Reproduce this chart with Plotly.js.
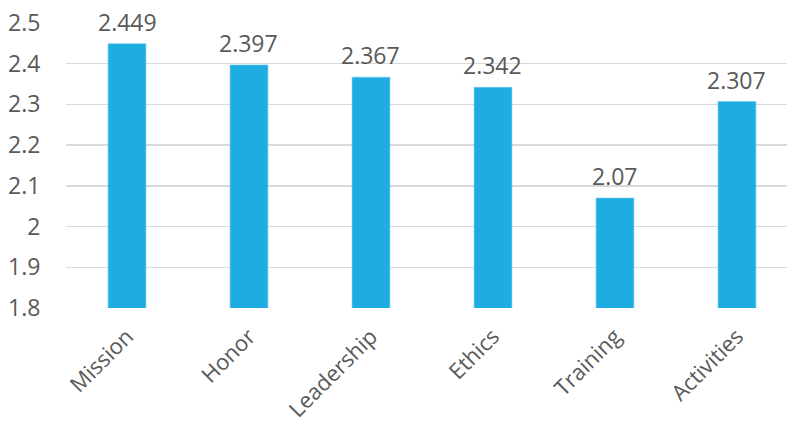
<!DOCTYPE html>
<html>
<head>
<meta charset="utf-8">
<script src="https://cdn.plot.ly/plotly-3.0.1.min.js"></script>
<style>
  html, body { margin: 0; padding: 0; background: #fff; }
  #chart { width: 787px; height: 430px; }
</style>
</head>
<body>
<div id="chart"></div>
<script>
// Mean score per dimension
const categories = ["Mission", "Honor", "Leadership", "Ethics", "Training", "Activities"];
const scores = [2.449, 2.397, 2.367, 2.342, 2.07, 2.307];
const yTicks = [1.8, 1.9, 2, 2.1, 2.2, 2.3, 2.4, 2.5];
const yTickLabels = ["1.8", "1.9", "2", "2.1", "2.2", "2.3", "2.4", "2.5"];

const textColor = "#595959";
const fontFamily = "'Open Sans', 'DejaVu Sans', sans-serif";

const trace = {
  type: "bar",
  x: categories,
  y: scores,
  width: 0.31,
  marker: { color: "#1EADE3", line: { color: "#6cc9ee", width: 0.6 } },
  hoverinfo: "none"
};

// value labels above each bar
const annotations = categories.map((c, i) => ({
  x: c,
  y: scores[i],
  xref: "x",
  yref: "y",
  text: String(scores[i]),
  showarrow: false,
  yanchor: "bottom",
  yshift: 4,
  font: { family: fontFamily, size: 23, color: textColor }
}));

const layout = {
  width: 787,
  height: 430,
  margin: { l: 66, r: 0, t: 23, b: 122 },
  paper_bgcolor: "#fff",
  plot_bgcolor: "#fff",
  showlegend: false,
  font: { family: fontFamily, color: textColor },
  xaxis: {
    type: "category",
    range: [-0.5, 5.41],
    tickangle: -45,
    tickfont: { family: fontFamily, size: 22, color: textColor },
    showgrid: false,
    showline: false,
    zeroline: false,
    ticks: "outside",
    ticklen: 6,
    tickcolor: "rgba(0,0,0,0)"
  },
  yaxis: {
    range: [1.8, 2.5],
    tickvals: yTicks,
    ticktext: yTickLabels,
    tickfont: { family: fontFamily, size: 23, color: textColor },
    showgrid: true,
    gridcolor: "#d9d9d9",
    gridwidth: 1.3,
    zeroline: false,
    showline: false,
    ticks: "outside",
    ticklen: 20,
    tickcolor: "rgba(0,0,0,0)"
  },
  annotations: annotations
};

Plotly.newPlot("chart", [trace], layout, { displayModeBar: false, staticPlot: true });
</script>
</body>
</html>
